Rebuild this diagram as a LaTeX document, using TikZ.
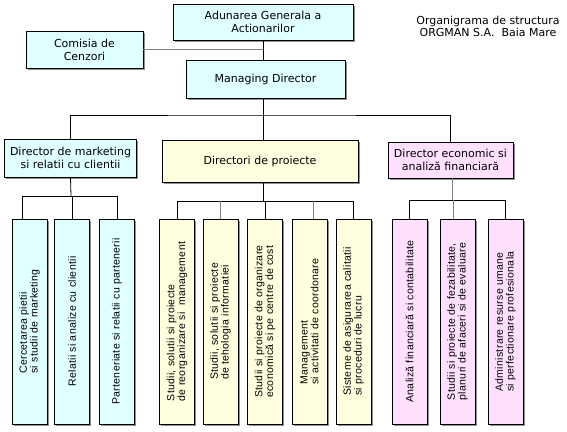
\documentclass[tikz,border=0pt]{standalone}
\usepackage{fontspec}
\setmainfont{DejaVu Sans}
\newfontfamily\vfont[LetterSpace=3]{Liberation Sans}
\usetikzlibrary{shadows}
\definecolor{cyanfill}{HTML}{E0FFFF}
\definecolor{yellowfill}{HTML}{FFFFE0}
\definecolor{pinkfill}{HTML}{FFE0FF}
\definecolor{shadowgray}{HTML}{909090}
\definecolor{wiregray}{HTML}{808080}
\begin{document}
\begin{tikzpicture}[x=1pt,y=-1pt,
  box/.style={draw=black, line width=0.7pt, inner sep=1pt, align=center,
    font=\fontsize{11}{13}\selectfont,
    drop shadow={shadow xshift=1.5pt, shadow yshift=-1.5pt, fill=shadowgray, opacity=1}},
  cbox/.style={box, fill=cyanfill},
  ybox/.style={box, fill=yellowfill},
  pbox/.style={box, fill=pinkfill},
  kid/.style={minimum width=35pt, minimum height=205pt},
  kidtext/.style={rotate=90, align=left, inner sep=0pt, font=\vfont\fontsize{10.5}{10.7}\selectfont},
  wire/.style={draw=black, line width=0.8pt},
  gwire/.style={draw=wiregray, line width=0.8pt}
]
\useasboundingbox (0,0) rectangle (567,431);

% title
\node[font=\fontsize{11}{12}\selectfont, align=center] (title) at (488,26)
  {Organigrama de structura\\ORGMAN S.A.\ \ Baia Mare};

% top levels
\node[cbox, minimum width=180pt, minimum height=36pt] (agA) at (263,22) {Adunarea Generala a\\Actionarilor};
\node[cbox, minimum width=117pt, minimum height=37pt] (cen) at (84.5,49.5) {Comisia de\\Cenzori};
\node[cbox, minimum width=159pt, minimum height=38pt] (md) at (265.5,79) {Managing Director};

\node[cbox, minimum width=132pt, minimum height=38pt] (mk) at (70.5,158) {Director de marketing\\si relatii cu clientii};
\node[ybox, minimum width=196pt, minimum height=42pt] (pr) at (260,161) {Directori de proiecte};
\node[pbox, minimum width=125pt, minimum height=36pt] (ec) at (450.5,160) {Director economic si\\analiză financiară};

% children boxes
\node[cbox, kid] (m1) at (29.5,321.5) {};
\node[cbox, kid] (m2) at (72,321.5) {};
\node[cbox, kid] (m3) at (117,321.5) {};
\node[ybox, kid] (p1) at (177,321.5) {};
\node[ybox, kid] (p2) at (220.5,321.5) {};
\node[ybox, kid] (p3) at (265,321.5) {};
\node[ybox, kid] (p4) at (309.5,321.5) {};
\node[ybox, kid] (p5) at (353.5,321.5) {};
\node[pbox, kid] (e1) at (409.5,321.5) {};
\node[pbox, kid] (e2) at (457.5,321.5) {};
\node[pbox, kid] (e3) at (505.5,321.5) {};

% children texts
\node[kidtext] (m1t) at (m1.center) {Cercetarea pietii\\si studii de marketing};
\node[kidtext] (m2t) at (m2.center) {Relatii si analize cu clientii};
\node[kidtext] (m3t) at (m3.center) {Parteneriate si relatii cu partenerii};
\node[kidtext] (p1t) at (p1.center) {Studii, solutii si proiecte\\de reorganizare si\ \ management};
\node[kidtext] (p2t) at (p2.center) {Studii, solutii si proiecte\\de tehologia informatiei};
\node[kidtext] (p3t) at (p3.center) {Studii si proiecte de organizare\\economică si pe centre de cost};
\node[kidtext] (p4t) at (p4.center) {Management\\si activitati de coordonare};
\node[kidtext] (p5t) at (p5.center) {Sisteme de asigurarea calitatii\\si proceduri de lucru};
\node[kidtext] (e1t) at (e1.center) {Analiză financiară si contabilitate};
\node[kidtext] (e2t) at (e2.center) {Studii si proiecte de fezabilitate,\\planuri de afaceri si de evaluare};
\node[kidtext] (e3t) at (e3.center) {Administrare resurse umane\\si perfectionare profesionala};

% upper connectors
\draw[gwire] (cen.east) -- (cen.east -| agA.south);
\draw[wire] (agA.south) -- (agA.south |- md.north);
\coordinate (bus1) at (263,115);
\draw[wire] (md.south -| bus1) -- (bus1);
\draw[wire] (mk.north) |- (bus1) -| (ec.north);
\draw[wire] (bus1) -- (pr.north -| bus1);

% marketing children
\coordinate (bm) at (71,196);
\draw[wire] (mk.south) -- (bm);
\draw[wire] ([xshift=-7.5pt]m1.north) |- (m3.north |- bm) -- (m3.north);
\draw[wire] (m2.north) -- (m2.north |- bm);

% project children
\coordinate (bp) at (263,201);
\draw[wire] (pr.south -| bp) -- (bp);
\draw[wire] (p1.north) |- (p5.north |- bp) -- (p5.north);
\draw[gwire] (p2.north) -- (p2.north |- bp);
\draw[wire] (p3.north) -- (p3.north |- bp);
\draw[gwire] ([xshift=3.5pt]p4.north) -- ([xshift=3.5pt]p4.north |- bp);

% economic children
\coordinate (be) at (452,200);
\draw[gwire] (ec.south -| be) -- (be);
\draw[wire] (e1.north) |- (e3.north |- be) -- (e3.north);
\draw[gwire] ([xshift=-4.5pt]e2.north) -- ([xshift=-4.5pt]e2.north |- be);
\end{tikzpicture}
\end{document}
